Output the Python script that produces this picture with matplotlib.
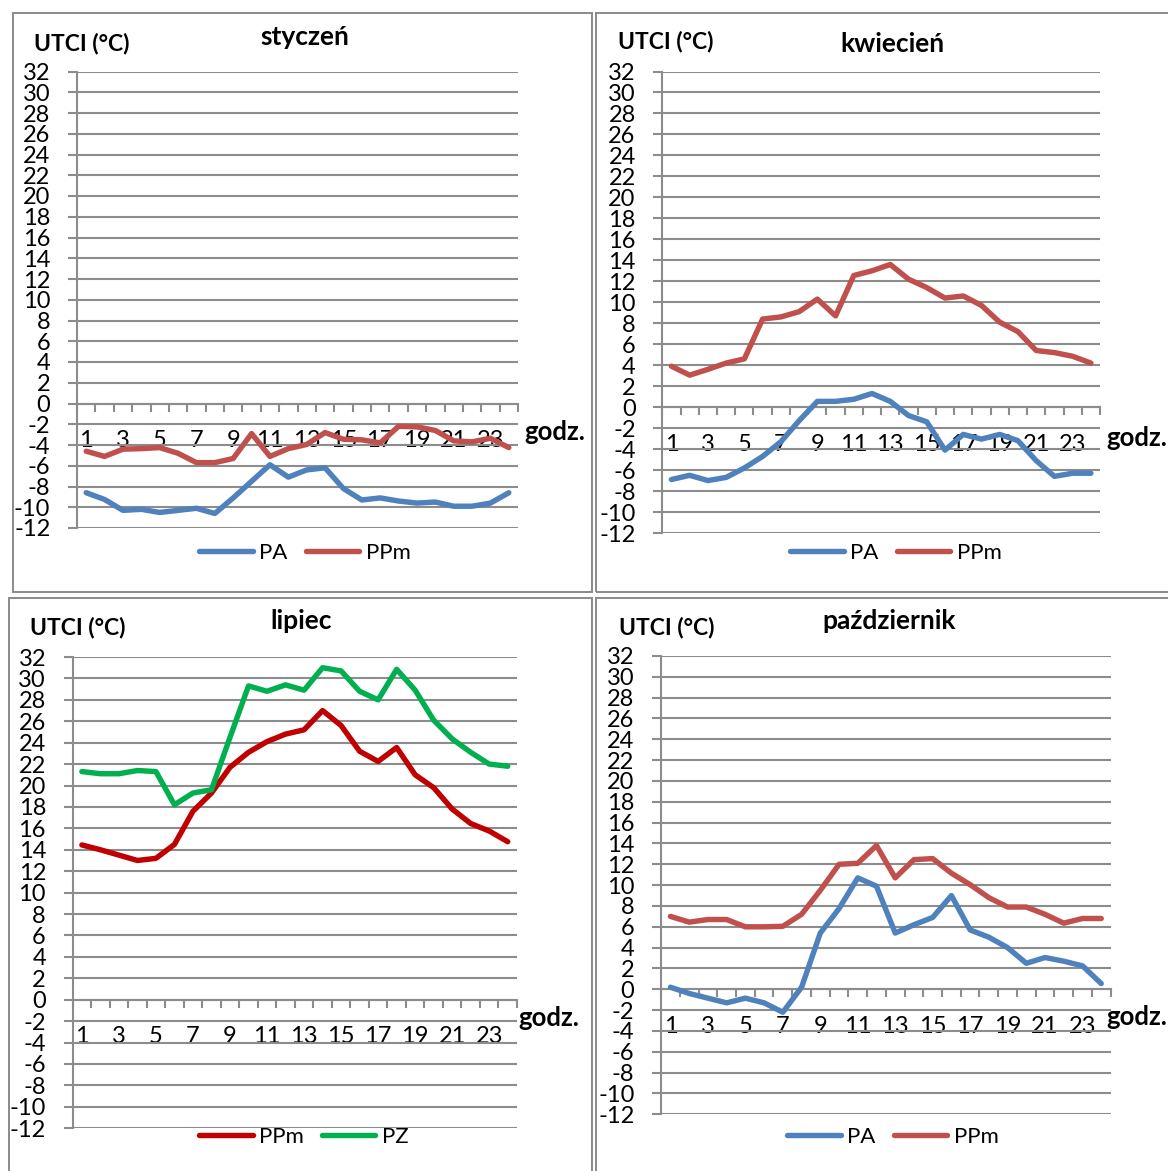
import matplotlib
matplotlib.use('Agg')
import matplotlib.pyplot as plt
from matplotlib.patches import Rectangle
from matplotlib.ticker import FixedLocator, NullFormatter

W, H = 1168, 1171
DPI = 100

hours = list(range(1, 25))
y_ticks = list(range(-12, 33, 2))
x_labels = list(range(1, 24, 2))

jan_PA = [-8.6, -9.25, -10.3, -10.2, -10.5, -10.3, -10.1, -10.6, -9.1, -7.5, -5.9, -7.1,
          -6.4, -6.2, -8.2, -9.3, -9.1, -9.4, -9.6, -9.5, -9.9, -9.9, -9.6, -8.6]
jan_PPm = [-4.6, -5.1, -4.4, -4.35, -4.25, -4.8, -5.7, -5.7, -5.3, -2.9, -5.1, -4.35,
           -3.95, -2.8, -3.45, -3.5, -3.8, -2.2, -2.25, -2.6, -3.6, -3.7, -3.35, -4.25]
apr_PA = [-6.9, -6.5, -7.0, -6.7, -5.8, -4.7, -3.3, -1.3, 0.55, 0.55, 0.75, 1.3,
          0.55, -0.8, -1.4, -4.1, -2.6, -3.05, -2.6, -3.2, -5.1, -6.6, -6.3, -6.3]
apr_PPm = [3.9, 3.05, 3.6, 4.2, 4.6, 8.4, 8.6, 9.1, 10.3, 8.7, 12.55, 13.0,
           13.6, 12.2, 11.4, 10.4, 10.6, 9.7, 8.1, 7.2, 5.4, 5.2, 4.85, 4.2]
jul_PPm = [14.45, 14.0, 13.5, 13.0, 13.2, 14.5, 17.6, 19.3, 21.7, 23.1, 24.1, 24.8,
           25.2, 27.0, 25.6, 23.2, 22.25, 23.55, 21.0, 19.8, 17.8, 16.45, 15.75, 14.75]
jul_PZ = [21.3, 21.1, 21.1, 21.4, 21.3, 18.2, 19.3, 19.6, 24.5, 29.3, 28.8, 29.4,
          28.9, 31.0, 30.7, 28.8, 28.0, 30.85, 28.9, 26.1, 24.35, 23.1, 22.0, 21.8]
oct_PA = [0.2, -0.4, -0.85, -1.3, -0.85, -1.3, -2.2, 0.2, 5.4, 7.75, 10.7, 9.9,
          5.4, 6.2, 6.9, 9.0, 5.7, 5.0, 4.0, 2.5, 3.05, 2.7, 2.25, 0.55]
oct_PPm = [7.0, 6.45, 6.7, 6.7, 6.0, 6.0, 6.05, 7.2, 9.5, 12.0, 12.1, 13.8,
           10.7, 12.45, 12.55, 11.15, 10.05, 8.8, 7.9, 7.9, 7.2, 6.35, 6.8, 6.8]

BLUE = '#4F81BD'
RED = '#C0504D'
DARKRED = '#C00000'
GREEN = '#00B050'
GRID = '#8C8C8C'
FRAME = '#8A8A8A'

plt.rcParams['font.family'] = ['Lato', 'DejaVu Sans']

fig = plt.figure(figsize=(W / DPI, H / DPI), dpi=DPI)


def fx(x):
    return x / W


def fy(y):
    return 1 - y / H


panels = [
    dict(title='styczeń', ax=(77, 71.5, 518, 528), frame=(12.5, 13.5, 592, 592.5),
         utci=(34, 43), title_xy=(305, 37), godz=(524, 432), legend_xy=(305, 553),
         series=[('PA', jan_PA, BLUE), ('PPm', jan_PPm, RED)]),
    dict(title='kwiecień', ax=(662.3, 71.5, 1100, 533), frame=(596, 13.5, 1180, 592.5),
         utci=(618, 42), title_xy=(892, 44), godz=(1106, 438), legend_xy=(896, 553),
         series=[('PA', apr_PA, BLUE), ('PPm', apr_PPm, RED)]),
    dict(title='lipiec', ax=(72.6, 657, 517, 1128.2), frame=(8.5, 597.5, 592, 1180),
         utci=(30, 627), title_xy=(301, 621), godz=(518, 1018), legend_xy=(304, 1137),
         series=[('PPm', jul_PPm, DARKRED), ('PZ', jul_PZ, GREEN)]),
    dict(title='październik', ax=(661.1, 656, 1110.6, 1114.3), frame=(596, 597.5, 1180, 1180),
         utci=(619, 627), title_xy=(889, 621), godz=(1106, 1017), legend_xy=(893, 1137),
         series=[('PA', oct_PA, BLUE), ('PPm', oct_PPm, RED)]),
]

for p in panels:
    l, t, r, b = p['frame']
    fig.add_artist(Rectangle((fx(l), fy(b)), fx(r - l), (b - t) / H,
                             transform=fig.transFigure, fill=False,
                             edgecolor=FRAME, linewidth=1.4, zorder=0))

    l, t, r, b = p['ax']
    ax = fig.add_axes([fx(l), fy(b), fx(r - l), (b - t) / H])
    ax.set_xlim(0.5, 24.5)
    ax.set_ylim(-12, 32)
    for name, vals, col in p['series']:
        ax.plot(hours, vals, color=col, lw=3.9, label=name, zorder=3,
                solid_joinstyle='round', solid_capstyle='round')

    ax.set_yticks(y_ticks)
    ax.set_yticklabels([str(v) for v in y_ticks])
    ax.yaxis.grid(True, color=GRID, lw=1.5)
    ax.set_axisbelow(True)
    ax.tick_params(axis='y', direction='out', length=6.2, width=1.5, color=GRID,
                   labelsize=17, pad=13)

    ax.set_xticks(x_labels)
    ax.set_xticklabels([str(v) for v in x_labels])
    ax.xaxis.set_minor_locator(FixedLocator([h - 0.5 for h in hours] + [24.5]))
    ax.xaxis.set_minor_formatter(NullFormatter())
    ax.tick_params(axis='x', which='major', length=0, labelsize=17, pad=19)
    ax.tick_params(axis='x', which='minor', direction='out', length=5.5, width=1.5, color=GRID)

    for s in ['top', 'right']:
        ax.spines[s].set_visible(False)
    ax.spines['bottom'].set_position(('data', 0))
    ax.spines['left'].set_color(GRID)
    ax.spines['bottom'].set_color(GRID)
    ax.spines['left'].set_linewidth(1.5)
    ax.spines['bottom'].set_linewidth(1.5)
    ax.patch.set_alpha(0)

    fig.text(fx(p['utci'][0]), fy(p['utci'][1]), 'UTCI (°C)', fontsize=16.5,
             fontweight='bold', ha='left', va='center')
    fig.text(fx(p['title_xy'][0]), fy(p['title_xy'][1]), p['title'], fontsize=19,
             fontweight='bold', ha='center', va='center')
    fig.text(fx(p['godz'][0]), fy(p['godz'][1]), 'godz.', fontsize=18.5,
             fontweight='bold', ha='left', va='center')

    ax.legend(loc='center', bbox_to_anchor=(fx(p['legend_xy'][0]), fy(p['legend_xy'][1])),
              bbox_transform=fig.transFigure, ncol=2, frameon=False, fontsize=16,
              handlelength=2.4, handletextpad=0.3, columnspacing=0.8, borderpad=0)

fig.savefig('out.png', dpi=DPI)
